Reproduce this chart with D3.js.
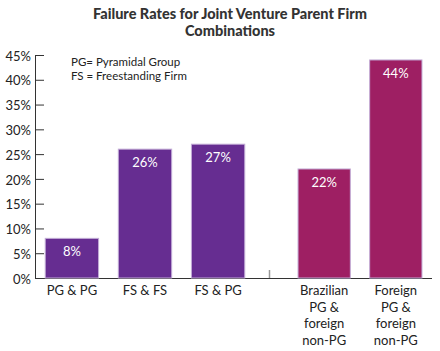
<!DOCTYPE html>
<html><head><meta charset="utf-8">
<script src="https://cdn.jsdelivr.net/npm/d3@7"></script>
<style>body{margin:0;background:#fff}</style>
</head><body>
<svg id="c" width="440" height="351"></svg>
<script>
const group1 = ["PG & PG", "FS & FS", "FS & PG"];
const values1 = [8, 26, 27];
const group2 = ["Brazilian|PG &|foreign|non-PG", "Foreign|PG &|foreign|non-PG"];
const values2 = [22, 44];
const yTicks = [0, 5, 10, 15, 20, 25, 30, 35, 40, 45];
const titleLines = ["Failure Rates for Joint Venture Parent Firm", "Combinations"];
const legendLines = ["PG= Pyramidal Group", "FS = Freestanding Firm"];

const svg = d3.select("#c");
const font = "'Lato', 'Open Sans', sans-serif";
const y = d3.scaleLinear().domain([0, 45]).range([278, 55]);
const x1 = d3.scaleBand().domain(group1).range([35, 255]).paddingInner(0.27).paddingOuter(0.14);
const x2 = d3.scaleBand().domain(group2).range([288, 432]).paddingInner(0.27).paddingOuter(0.14);

// title
svg.append("g").selectAll("text").data(titleLines).join("text")
  .attr("x", 230).attr("y", (d, i) => 19 + i * 17)
  .attr("text-anchor", "middle").attr("font-family", font).attr("font-weight", 900)
  .attr("font-size", 14.5).attr("fill", "#333").text(d => d);

// y axis
const yAxis = svg.append("g").attr("transform", "translate(35,0)")
  .call(d3.axisRight(y).tickValues(yTicks).tickSize(9).tickFormat(d => d + "%"));
yAxis.select(".domain").attr("stroke", "#333").attr("d", "M0.5,55V278.5");
yAxis.selectAll(".tick line").attr("stroke", "#333");
yAxis.selectAll(".tick text").attr("x", -4).attr("dy", "0.4em").attr("text-anchor", "end")
  .attr("font-family", font).attr("font-size", 13).attr("fill", "#222");

// baseline
svg.append("line").attr("x1", 35).attr("x2", 432).attr("y1", y(0) + 0.5).attr("y2", y(0) + 0.5)
  .attr("stroke", "#333").attr("stroke-width", 1.2);

// separator
svg.append("line").attr("x1", 269.5).attr("x2", 269.5).attr("y1", y(0) - 8).attr("y2", y(0))
  .attr("stroke", "#999").attr("stroke-width", 1.5);

function drawGroup(cats, vals, xs, color) {
  const g = svg.append("g");
  const data = cats.map((c, i) => ({ c, v: vals[i] }));
  g.selectAll("rect").data(data).join("rect")
    .attr("x", d => xs(d.c)).attr("y", d => y(d.v))
    .attr("width", xs.bandwidth()).attr("height", d => y(0) - y(d.v))
    .attr("fill", color).attr("stroke", "#c2acd6").attr("stroke-width", 1);
  g.selectAll("text.v").data(data).join("text").attr("class", "v")
    .attr("x", d => xs(d.c) + xs.bandwidth() / 2).attr("y", d => y(d.v) + 18)
    .attr("text-anchor", "middle").attr("font-family", font).attr("font-size", 13)
    .attr("fill", "#fff").text(d => d.v + "%");
  const lab = g.selectAll("text.l").data(data).join("text").attr("class", "l")
    .attr("text-anchor", "middle").attr("font-family", font).attr("font-size", 13).attr("fill", "#222");
  lab.selectAll("tspan").data(d => d.c.split("|").map(t => ({ t, x: xs(d.c) + xs.bandwidth() / 2 })))
    .join("tspan").attr("x", d => d.x).attr("y", (d, i) => 295 + i * 16.5).text(d => d.t);
}
drawGroup(group1, values1, x1, "#662d91");
drawGroup(group2, values2, x2, "#9e1f63");

// legend
svg.append("g").selectAll("text").data(legendLines).join("text")
  .attr("x", 71).attr("y", (d, i) => 66 + i * 14)
  .attr("font-family", font).attr("font-size", 11.5).attr("fill", "#222").text(d => d);
</script>
</body></html>
